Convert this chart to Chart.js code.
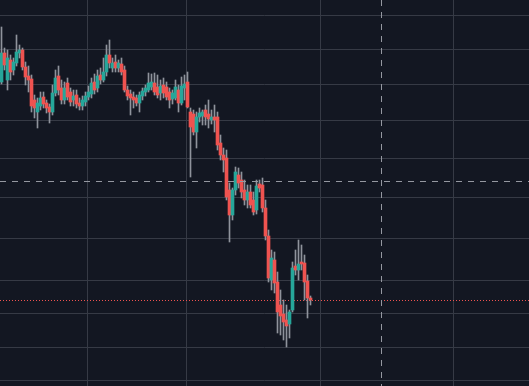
<!DOCTYPE html>
<html><head><meta charset="utf-8">
<script src="https://cdn.jsdelivr.net/npm/chart.js@4"></script>
<style>html,body{margin:0;padding:0;background:#131722;overflow:hidden}canvas{display:block}</style>
</head><body>
<canvas id="c" width="529" height="386"></canvas>
<script>
// OHLC values (price units), one candle per bar index
const openP  = [304,333,306,326,316,323,333,336,319,310,307,286,274,280,289,283,279,274,293,310,298,286,303,294,286,291,283,280,284,289,292,304,298,311,306,314,331,318,324,318,322,316,296,292,289,288,283,290,294,296,299,303,299,293,301,299,294,287,288,296,283,298,304,274,272,254,269,270,276,272,266,269,269,243,231,228,196,171,196,211,206,196,186,194,186,176,202,201,178,150,106,126,104,81,72,66,62,76,120,116,124,123,105,88];
const highP  = [359,338,336,331,328,351,341,338,324,320,311,291,288,294,294,286,282,301,316,320,306,304,308,298,296,296,288,290,294,300,308,312,316,318,328,341,346,328,331,326,328,320,300,296,294,291,294,298,301,313,312,313,311,306,308,304,298,296,306,301,309,311,314,278,276,274,278,276,281,286,276,281,274,251,238,236,203,198,219,218,214,206,201,201,194,206,206,208,186,156,136,134,114,96,86,81,76,124,136,146,141,131,111,90];
const lowP   = [302,316,296,306,311,320,328,316,301,294,274,268,258,276,278,273,263,271,290,291,282,282,286,280,280,278,276,276,280,286,288,292,294,302,304,310,318,314,314,314,311,294,286,271,278,280,274,286,290,294,296,291,288,286,288,286,278,282,286,274,281,286,278,209,251,238,264,261,261,258,262,254,236,226,214,186,144,166,191,198,188,181,178,178,171,172,194,174,146,104,96,93,53,51,46,39,48,74,111,106,116,86,68,81];
const closeP = [333,321,328,314,324,334,336,319,309,306,280,278,283,288,282,278,274,293,308,296,286,298,289,284,290,282,280,286,290,294,303,296,310,306,314,331,323,323,318,323,314,296,290,288,286,283,291,295,298,303,304,294,291,300,293,289,286,293,299,283,300,302,279,259,254,269,273,274,269,267,269,266,241,231,226,189,171,196,214,203,194,186,194,181,174,200,198,178,150,108,128,103,74,70,64,60,74,118,116,122,122,104,88,86];
// Axis ranges and grid tick values
const xRange = [-0.5, 175.8333];
const yRange = [0, 386];
const xGridTicks = [28.5, 61.83, 106.17, 150.83];
const yGridTicks = [371, 337, 302, 266, 228, 189, 148, 105, 73, 39, 6];
const crosshair = {x: 126.5, y: 205};

const UP = '#26a69a', DOWN = '#ef5350', WICK = '#8f939c', BG = '#131722', GRID = '#363a45';

const idx = openP.map((_, i) => i);
const bodyData = idx.map(i => ({x: i, y: [openP[i], closeP[i]]}));
const wickData = idx.map(i => ({x: i, y: [lowP[i], highP[i]]}));
const colors = idx.map(i => closeP[i] >= openP[i] ? UP : DOWN);

const overlay = {
  id: 'overlay',
  beforeDraw(chart) {
    const {ctx, width, height} = chart;
    ctx.save(); ctx.fillStyle = BG; ctx.fillRect(0, 0, width, height); ctx.restore();
  },
  beforeDatasetsDraw(chart) {
    const {ctx, chartArea: a, scales: {y}} = chart;
    const py = Math.round(y.getPixelForValue(closeP[closeP.length - 1])) + 0.5;
    ctx.save();
    ctx.strokeStyle = DOWN; ctx.lineWidth = 1; ctx.setLineDash([1, 2]);
    ctx.beginPath(); ctx.moveTo(a.left, py); ctx.lineTo(a.right, py); ctx.stroke();
    ctx.restore();
  },
  afterDraw(chart) {
    const {ctx, chartArea: a, scales: {x, y}} = chart;
    const cx = Math.round(x.getPixelForValue(crosshair.x)) + 0.5;
    const cy = Math.round(y.getPixelForValue(crosshair.y)) + 0.5;
    ctx.save();
    ctx.strokeStyle = '#9598a1'; ctx.lineWidth = 1; ctx.setLineDash([6, 6]);
    ctx.beginPath(); ctx.moveTo(a.left, cy); ctx.lineTo(a.right, cy); ctx.stroke();
    ctx.beginPath(); ctx.moveTo(cx, a.top); ctx.lineTo(cx, a.bottom); ctx.stroke();
    ctx.restore();
  }
};

new Chart(document.getElementById('c'), {
  type: 'bar',
  data: {
    datasets: [
      {label: 'body', data: bodyData, backgroundColor: colors, barThickness: 3, minBarLength: 1, grouped: false, order: 0, borderWidth: 0},
      {label: 'wick', data: wickData, backgroundColor: WICK, barThickness: 1, minBarLength: 1, grouped: false, order: 1, borderWidth: 0}
    ]
  },
  options: {
    responsive: false,
    devicePixelRatio: 1,
    animation: false,
    layout: {padding: 0},
    plugins: {legend: {display: false}, tooltip: {enabled: false}},
    scales: {
      x: {
        type: 'linear', min: xRange[0], max: xRange[1], offset: false,
        grid: {color: GRID, drawTicks: false, offset: false},
        border: {display: false},
        ticks: {display: false},
        afterBuildTicks: ax => { ax.ticks = xGridTicks.map(v => ({value: v})); }
      },
      y: {
        type: 'linear', min: yRange[0], max: yRange[1],
        grid: {color: GRID, drawTicks: false},
        border: {display: false},
        ticks: {display: false},
        afterBuildTicks: ax => { ax.ticks = yGridTicks.map(v => ({value: v})); }
      }
    }
  },
  plugins: [overlay]
});
</script>
</body></html>
